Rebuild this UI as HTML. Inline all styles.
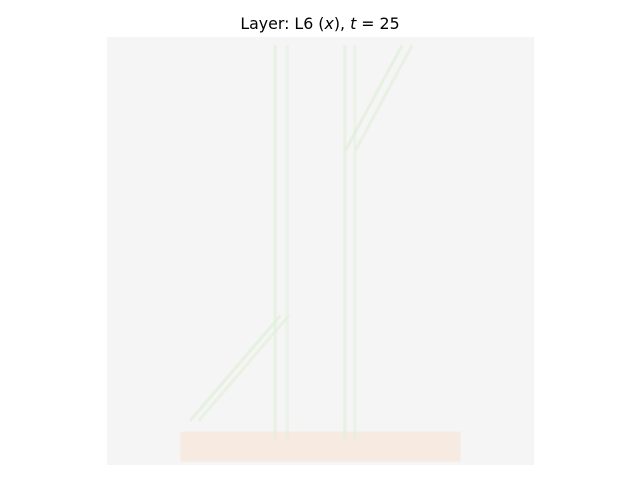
<!DOCTYPE html>
<html><head><meta charset="utf-8">
<style>
body{margin:0;background:#fff;width:640px;height:480px;overflow:hidden;font-family:"DejaVu Sans","Liberation Sans",sans-serif;}
</style></head>
<body>
<svg width="640" height="480">
<text x="320" y="29" text-anchor="middle" font-size="15.8" fill="#000">Layer: L6 (<tspan font-style="italic">x</tspan>), <tspan font-style="italic">t</tspan> = 25</text>
<rect x="107" y="37" width="427" height="428" fill="#f5f5f5"/>
<g id="marks"></g>
</svg>
<script>
// heatmap features in cell units (128x128 grid)
const lineStarts = [[50.4,2.4],[54,2.4],[71.3,2.4],[74.3,2.4],[71.5,33.9],[74.5,33.9],[24.9,114.8],[27.5,114.8]];
const lineEnds   = [[50.4,120.8],[54,120.8],[71.3,120.8],[74.3,120.8],[88.5,2.4],[91.5,2.4],[52,83.3],[54.5,83.3]];
const lineIntensity = [0.4,0.3,0.4,0.3,0.5,0.4,0.5,0.4];
const bandCols = [22,106];
const bandRows = [118,127];
const bandIntensity = [0.4];
const N=128, X0=107, Y0=37, W=427, H=428;
const sx=c=>X0+c*W/N, sy=r=>Y0+r*H/N;
const g=document.getElementById('marks');
const ns='http://www.w3.org/2000/svg';
const band=document.createElementNS(ns,'rect');


band.setAttribute('x',sx(bandCols[0]));band.setAttribute('y',sy(bandRows[0]));
band.setAttribute('width',sx(bandCols[1])-sx(bandCols[0]));band.setAttribute('height',sy(bandRows[1])-sy(bandRows[0]));
band.setAttribute('fill','#f8e2d4');band.setAttribute('opacity',bandIntensity[0]+0.2);
g.appendChild(band);
lineStarts.forEach((s,i)=>{
  const l=document.createElementNS(ns,'line');
  
  
  l.setAttribute('x1',sx(s[0]));l.setAttribute('y1',sy(s[1]));
  l.setAttribute('x2',sx(lineEnds[i][0]));l.setAttribute('y2',sy(lineEnds[i][1]));
  l.setAttribute('stroke','#e2f0dc');l.setAttribute('stroke-width',3.3);
  l.setAttribute('opacity',lineIntensity[i]+0.2);
  g.appendChild(l);
});
</script>
</body></html>
